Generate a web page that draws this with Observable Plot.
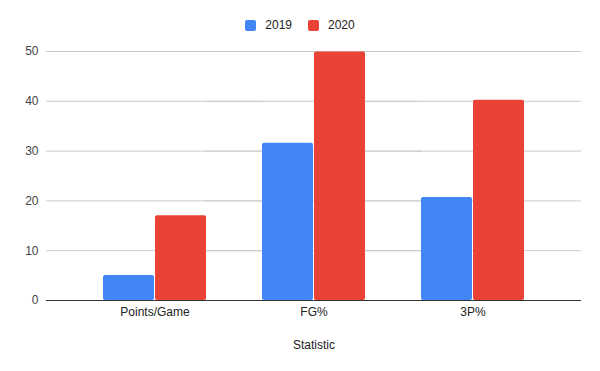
<!DOCTYPE html>
<html>
<head>
<meta charset="utf-8">
<script src="https://cdn.jsdelivr.net/npm/d3@7"></script>
<script src="https://cdn.jsdelivr.net/npm/@observablehq/plot@0.6"></script>
<style>
  html, body { margin: 0; padding: 0; background: #fff; }
  body { width: 600px; height: 371px; overflow: hidden; font-family: "Liberation Sans", Arial, sans-serif; }
  #legend { height: 22px; padding-top: 18px; display: flex; justify-content: center; align-items: flex-start; font-size: 12px; color: #222; line-height: 14px; }
  .item { display: flex; align-items: center; margin: 0 8px; }
  .sw { width: 11px; height: 11px; border-radius: 2px; margin-right: 9px; }
  #chart svg { display: block; }
</style>
</head>
<body>
<div id="legend"></div>
<div id="chart"></div>
<script>
const categories = ["Points/Game", "FG%", "3P%"];
const years = ["2019", "2020"];
const values2019 = [5.0, 31.6, 20.7];
const values2020 = [17.0, 49.9, 40.2];
const yTicks = [0, 10, 20, 30, 40, 50];
const colors = ["#4285F4", "#EA4335"];

const data = [];
categories.forEach((c, i) => {
  data.push({category: c, year: years[0], value: values2019[i]});
  data.push({category: c, year: years[1], value: values2020[i]});
});

const legend = document.getElementById("legend");
years.forEach((y, i) => {
  const it = document.createElement("div");
  it.className = "item";
  it.innerHTML = `<span class="sw" style="background:${colors[i]}"></span><span>${y}</span>`;
  legend.appendChild(it);
});

const chart = Plot.plot({
  width: 600,
  height: 331,
  marginLeft: 45,
  marginRight: 19,
  marginTop: 11,
  marginBottom: 71,
  style: { fontFamily: '"Liberation Sans", Arial, sans-serif', fontSize: "12px", background: "#fff" },
  fx: { domain: categories, paddingInner: 0.354, paddingOuter: 0.354, label: "Statistic" },
  x: { domain: years, paddingInner: 0.025, paddingOuter: 0, axis: null },
  y: { domain: [0, 50], label: null },
  color: { domain: years, range: colors },
  marks: [
    Plot.ruleY(yTicks.slice(1), { stroke: "#cccccc", insetLeft: -57, insetRight: -57 }),
    Plot.axisY(yTicks, { tickSize: 0, tickPadding: 8, dx: -57, fill: "#444", fontSize: 12, label: null }),
    Plot.axisFx({ anchor: "bottom", tickSize: 0, tickPadding: 7, fill: "#222", fontSize: 12, label: "Statistic", labelAnchor: "center", labelOffset: 48, labelArrow: "none" }),
    Plot.barY(data, { fx: "category", x: "year", y: "value", fill: "year", rx: 2 }),
    Plot.ruleY([0], { stroke: "#333333", insetLeft: -57, insetRight: -57 })
  ]
});
document.getElementById("chart").appendChild(chart);
</script>
</body>
</html>
